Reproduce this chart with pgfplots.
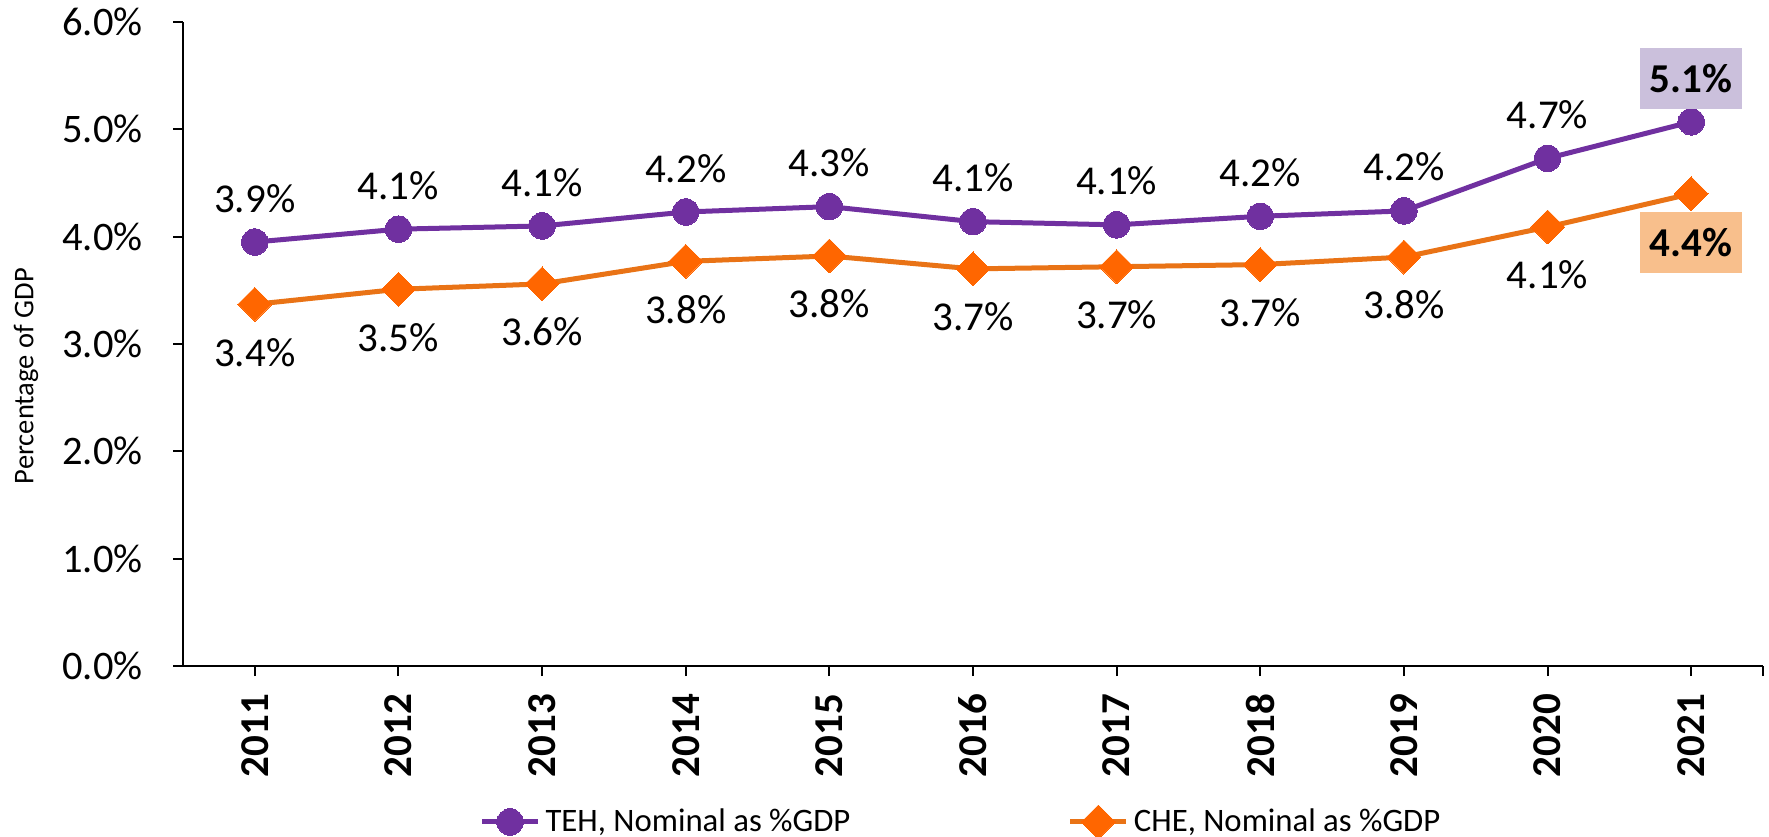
\documentclass[border=0pt]{standalone}
\usepackage{fontspec}
\setmainfont{Carlito}
\usepackage{pgfplots}
\pgfplotsset{compat=1.18}
\definecolor{tehpurple}{HTML}{7030A0}
\definecolor{cheline}{HTML}{E97316}
\definecolor{chemark}{HTML}{FF6600}
\definecolor{tehbox}{HTML}{CBC0DC}
\definecolor{chebox}{HTML}{F8BF8C}
\begin{document}
\begin{tikzpicture}
\useasboundingbox (-73.2pt,-68.4pt) rectangle (634.4pt,266.4pt);
\begin{axis}[
  at={(0pt,0pt)}, anchor=south west,
  width=632pt, height=257.6pt, scale only axis,
  xmin=2010.5, xmax=2021.5, ymin=0, ymax=6,
  clip=false,
  axis x line=bottom, axis y line=left,
  axis line style={-, line width=0.8pt, black},
  xtick={2011,2012,2013,2014,2015,2016,2017,2018,2019,2020,2021},
  xticklabels={2011,2012,2013,2014,2015,2016,2017,2018,2019,2020,2021},
  extra x ticks={2021.5}, extra x tick labels={},
  ytick={0,1,2,3,4,5,6},
  yticklabels={0.0\%,1.0\%,2.0\%,3.0\%,4.0\%,5.0\%,6.0\%},
  tick align=outside,
  major tick length=4pt,
  tick style={black, line width=0.8pt},
  xticklabel style={rotate=90, anchor=east, inner sep=0pt, font=\bfseries\fontsize{16.4}{18}\selectfont},
  xticklabel shift=7pt,
  yticklabel style={anchor=east, inner sep=0pt, font=\fontsize{16.2}{17}\selectfont},
  yticklabel shift=12pt,
  ylabel={Percentage of GDP},
  ylabel style={font=\fontsize{11.4}{13}\selectfont, at={(axis description cs:-0.0994,0.450)}, anchor=center},
  legend columns=2,
  legend style={at={(axis description cs:0.4933,-0.2422)}, anchor=center, draw=none, inner sep=0pt,
    font=\fontsize{13.1}{14}\selectfont, cells={anchor=west, inner xsep=1.5pt},
    /tikz/every even column/.append style={column sep=85pt}},
  legend image code/.code={\draw[mark repeat=2, mark phase=2] plot coordinates {(0pt,0pt) (11.2pt,0pt) (22.4pt,0pt)};},
]
\addplot[tehpurple, line width=2pt, mark=*, mark size=5.3pt,
  mark options={fill=tehpurple, draw=tehpurple, line width=0pt}] coordinates {
  (2011,3.95) (2012,4.07) (2013,4.10) (2014,4.23) (2015,4.28) (2016,4.14)
  (2017,4.11) (2018,4.19) (2019,4.24) (2020,4.73) (2021,5.07)};
\addlegendentry{TEH, Nominal as \%GDP}
\addplot[cheline, line width=2pt, mark=square*, mark size=4.8pt,
  mark options={rotate=45, fill=chemark, draw=chemark, line width=0pt}] coordinates {
  (2011,3.37) (2012,3.51) (2013,3.56) (2014,3.77) (2015,3.82) (2016,3.70)
  (2017,3.72) (2018,3.74) (2019,3.81) (2020,4.09) (2021,4.40)};
\addlegendentry{CHE, Nominal as \%GDP}
% data labels
\addplot[draw=none, mark=none, forget plot, point meta=explicit symbolic, nodes near coords,
  every node near coord/.append style={anchor=center, yshift=17.5pt, text=black, font=\fontsize{16.4}{18}\selectfont}]
  coordinates {
  (2011,3.95) [3.9\%] (2012,4.07) [4.1\%] (2013,4.10) [4.1\%] (2014,4.23) [4.2\%]
  (2015,4.28) [4.3\%] (2016,4.14) [4.1\%] (2017,4.11) [4.1\%] (2018,4.19) [4.2\%]
  (2019,4.24) [4.2\%] (2020,4.73) [4.7\%]};
\addplot[draw=none, mark=none, forget plot, point meta=explicit symbolic, nodes near coords,
  every node near coord/.append style={anchor=center, yshift=-19.2pt, text=black, font=\fontsize{16.4}{18}\selectfont}]
  coordinates {
  (2011,3.37) [3.4\%] (2012,3.51) [3.5\%] (2013,3.56) [3.6\%] (2014,3.77) [3.8\%]
  (2015,3.82) [3.8\%] (2016,3.70) [3.7\%] (2017,3.72) [3.7\%] (2018,3.74) [3.7\%]
  (2019,3.81) [3.8\%] (2020,4.09) [4.1\%]};
\addplot[draw=none, mark=none, forget plot, point meta=explicit symbolic, nodes near coords,
  every node near coord/.append style={anchor=center, yshift=17.4pt, text=black, fill=tehbox,
    minimum width=40.8pt, minimum height=24.4pt, inner sep=0pt, font=\bfseries\fontsize{16.4}{18}\selectfont}]
  coordinates {(2021,5.07) [5.1\%]};
\addplot[draw=none, mark=none, forget plot, point meta=explicit symbolic, nodes near coords,
  every node near coord/.append style={anchor=center, yshift=-19.6pt, text=black, fill=chebox,
    minimum width=40.8pt, minimum height=24.4pt, inner sep=0pt, font=\bfseries\fontsize{16.4}{18}\selectfont}]
  coordinates {(2021,4.40) [4.4\%]};
\end{axis}
\end{tikzpicture}
\end{document}
